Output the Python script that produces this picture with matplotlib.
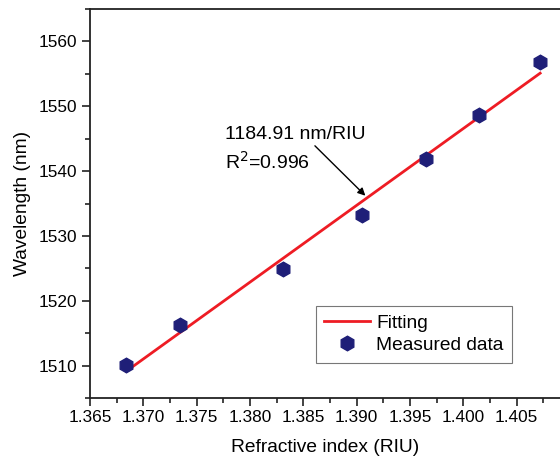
import numpy as np
import matplotlib.pyplot as plt
from matplotlib.ticker import MultipleLocator

plt.rcParams['font.family'] = ['Liberation Sans', 'DejaVu Sans']

# mesures : indice de réfraction / longueur d'onde de résonance
indice = [1.3684, 1.3734, 1.3831, 1.3905, 1.3965, 1.4015, 1.4072]
longueur_onde = [1510.1, 1516.3, 1524.9, 1533.3, 1541.9, 1548.6, 1556.8]

pente = 1184.91   # nm/RIU
r2 = 0.996

x = np.array(indice)
y = np.array(longueur_onde)
ordonnee = y.mean() - pente * x.mean()
x_fit = np.array([x.min(), x.max()])
y_fit = pente * x_fit + ordonnee

fig = plt.figure(figsize=(5.6, 4.59), dpi=100)
ax = fig.add_axes([90 / 560, 61 / 459, 470 / 560, 389 / 459])

ax.plot(x_fit, y_fit, color="#ee1c24", lw=2.0, label="Fitting", zorder=2)
ax.plot(x, y, "h", color="#1f1f78", ms=10.5, mec="#1f1f78", ls="none",
        label="Measured data", zorder=3)

ax.set_xlim(1.365, 1.40906)
ax.set_ylim(1505, 1565)
ax.xaxis.set_major_locator(MultipleLocator(0.005))
ax.xaxis.set_minor_locator(MultipleLocator(0.0025))
ax.yaxis.set_major_locator(MultipleLocator(10))
ax.yaxis.set_minor_locator(MultipleLocator(5))
ax.xaxis.set_major_formatter(plt.FormatStrFormatter("%.3f"))

for s in ax.spines.values():
    s.set_linewidth(1.3)
    s.set_color("#222222")
ax.spines["right"].set_visible(False)
ax.tick_params(which="both", direction="out", top=False, right=False,
               width=1.2, color="#222222")
ax.tick_params(which="major", length=6, labelsize=12.4, pad=3)
ax.tick_params(which="minor", length=3.5)

ax.set_xlabel("Refractive index (RIU)", fontsize=13.8, labelpad=10)
ax.set_ylabel("Wavelength (nm)", fontsize=13.8, labelpad=6)

ax.text(1.3777, 1545.7, f"{pente:.2f} nm/RIU", fontsize=14, va="center")
ax.text(1.3777, 1541.5, f"R$^2$={r2}", fontsize=14, va="center")
ax.annotate("", xy=(1.3910, 1535.9), xytext=(1.3859, 1544.2),
            arrowprops=dict(arrowstyle="-|>", color="black", lw=1.0,
                            mutation_scale=11))

leg = ax.legend(loc="upper left", bbox_to_anchor=(0.480, 0.237),
                fontsize=13.8, frameon=True, fancybox=False, handlelength=2.4,
                borderpad=0.45, labelspacing=0.25, handletextpad=0.3,
                borderaxespad=0)
leg.get_frame().set_edgecolor("#555555")
leg.get_frame().set_linewidth(0.8)

fig.savefig("out.png", dpi=100)
